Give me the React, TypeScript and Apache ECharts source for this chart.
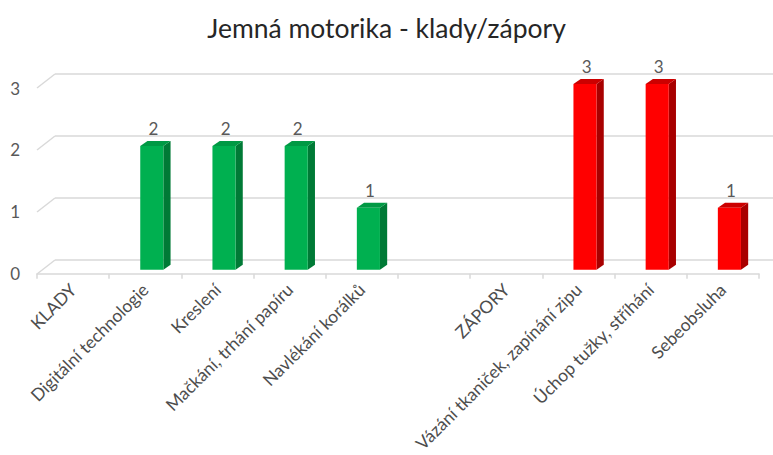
import React, { useEffect, useRef } from "react";
import * as echarts from "echarts";

const titleText = "Jemná motorika - klady/zápory";
const categories = [
  "KLADY",
  "Digitální technologie",
  "Kreslení",
  "Mačkání, trhání papíru",
  "Navlékání korálků",
  "",
  "ZÁPORY",
  "Vázání tkaniček, zapínání zipu",
  "Úchop tužky, stříhání",
  "Sebeobsluha",
];
const kladyValues: (number | null)[] = [null, 2, 2, 2, 1, null, null, null, null, null];
const zaporyValues: (number | null)[] = [null, null, null, null, null, null, null, 3, 3, 1];
const yTicks = [0, 1, 2, 3];

const FONT = "Lato, 'Open Sans', sans-serif";
const GRID_COLOR = "#d9d9d9";
const TEXT_COLOR = "#595959";

// layout
const W = 773;
const H = 455;
const FRONT_LEFT = 37;
const FRONT_RIGHT = 759;
const FRONT_BASE = 274;
const FRONT_TOP = 88;
const DEPTH_X = 18;
const DEPTH_Y = 14;

function toPairs(vals: (number | null)[]) {
  const out: [number, number][] = [];
  vals.forEach((v, i) => {
    if (v !== null) out.push([i, v]);
  });
  return out;
}

function make3DBar(front: string, side: string, top: string) {
  return (params: any, api: any) => {
    const cat = api.value(0);
    const v = api.value(1);
    const pTop = api.coord([cat, v]);
    const pBase = api.coord([cat, 0]);
    const cw = api.size([1, 0])[0];
    const fw = cw * 0.32;
    const dx = cw * 0.1;
    const dy = 5;
    const cx = pTop[0] + cw * 0.09;
    const xl = cx - fw / 2;
    const xr = cx + fw / 2;
    const yt = pTop[1] - 4;
    const yb = pBase[1] - 4;
    return {
      type: "group",
      children: [
        {
          type: "polygon",
          shape: { points: [[xr, yt], [xr + dx, yt - dy], [xr + dx, yb - dy], [xr, yb]] },
          style: { fill: side },
        },
        {
          type: "polygon",
          shape: { points: [[xl, yt], [xl + dx, yt - dy], [xr + dx, yt - dy], [xr, yt]] },
          style: { fill: top },
        },
        {
          type: "rect",
          shape: { x: xl, y: yt, width: fw, height: yb - yt },
          style: { fill: front },
        },
        {
          type: "text",
          style: {
            text: String(v),
            x: cx + dx / 2 - 2,
            y: yt - dy - 4,
            align: "center",
            verticalAlign: "bottom",
            fill: TEXT_COLOR,
            font: `17px ${FONT}`,
          },
        },
      ],
    };
  };
}

export default function App() {
  const ref = useRef<HTMLDivElement>(null);
  useEffect(() => {
    document.body.style.margin = "0";
    const chart = echarts.init(ref.current!, null, { renderer: "svg" });
    const unit = (FRONT_BASE - FRONT_TOP) / 3;
    const diagonals = yTicks.map((t) => ({
      type: "line",
      shape: {
        x1: FRONT_LEFT,
        y1: FRONT_BASE - unit * t,
        x2: FRONT_LEFT + DEPTH_X,
        y2: FRONT_BASE - unit * t - DEPTH_Y,
      },
      style: { stroke: GRID_COLOR, lineWidth: 1.5 },
      z: 0,
    }));
    chart.setOption({
      animation: false,
      title: {
        text: titleText,
        left: "center",
        top: 9,
        textStyle: { fontFamily: FONT, fontSize: 26.5, fontWeight: "normal", color: "#262626" },
      },
      graphic: diagonals,
      grid: [
        {
          left: FRONT_LEFT,
          right: W - FRONT_RIGHT,
          top: FRONT_TOP,
          bottom: H - FRONT_BASE,
        },
        {
          left: FRONT_LEFT + DEPTH_X,
          right: 0,
          top: FRONT_TOP - DEPTH_Y,
          bottom: H - FRONT_BASE + DEPTH_Y,
        },
      ],
      xAxis: [
        {
          type: "category",
          gridIndex: 0,
          data: categories,
          axisLine: { lineStyle: { color: GRID_COLOR, width: 1.5 } },
          axisTick: { show: true, length: 5, lineStyle: { color: GRID_COLOR, width: 1.5 } },
          axisLabel: {
            interval: 0,
            rotate: 45,
            margin: 13,
            color: "#4d4d4d",
            fontFamily: FONT,
            fontSize: 17.5,
          },
        },
        { type: "value", gridIndex: 1, show: false, min: 0, max: 1 },
      ],
      yAxis: [
        {
          type: "value",
          gridIndex: 0,
          min: 0,
          max: 3,
          interval: 1,
          axisLine: { show: false },
          axisTick: { show: false },
          splitLine: { show: false },
          axisLabel: { margin: 17, color: TEXT_COLOR, fontFamily: FONT, fontSize: 17 },
        },
        {
          type: "value",
          gridIndex: 1,
          min: 0,
          max: 3,
          interval: 1,
          axisLine: { show: false },
          axisTick: { show: false },
          axisLabel: { show: false },
          splitLine: { lineStyle: { color: GRID_COLOR, width: 1.5 } },
        },
      ],
      series: [
        {
          type: "custom",
          name: "Klady",
          xAxisIndex: 0,
          yAxisIndex: 0,
          data: toPairs(kladyValues),
          renderItem: make3DBar("#00B050", "#007A36", "#009944"),
          z: 5,
        },
        {
          type: "custom",
          name: "Zápory",
          xAxisIndex: 0,
          yAxisIndex: 0,
          data: toPairs(zaporyValues),
          renderItem: make3DBar("#FF0000", "#A80000", "#CC0000"),
          z: 5,
        },
      ],
    });
    return () => chart.dispose();
  }, []);
  return <div ref={ref} style={{ width: W, height: H }} />;
}
